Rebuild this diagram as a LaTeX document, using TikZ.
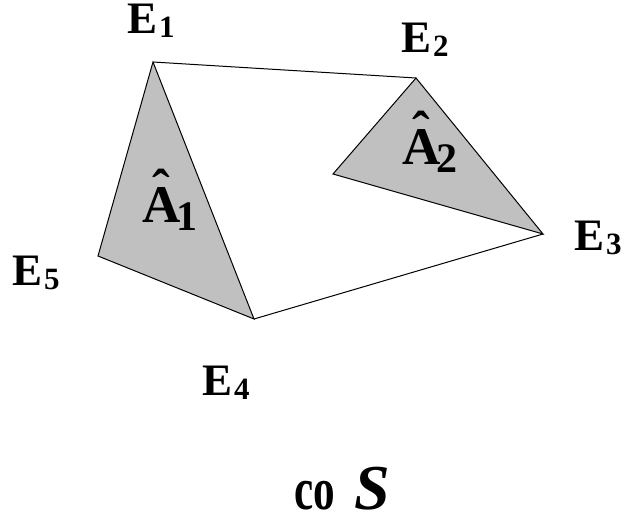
\documentclass[tikz,border=0pt]{standalone}
\usepackage{fontspec}
\setmainfont{Liberation Serif}
\usetikzlibrary{positioning}
\definecolor{facegray}{RGB}{192,192,192}
\newcommand\vsub[1]{\kern2pt\raisebox{-4pt}{\fontsize{31}{31}\selectfont #1}}
\newcommand\hatA{\ooalign{A\cr\hidewidth\raisebox{16pt}{ˆ}\hidewidth\cr}}
\newcommand\asub[1]{\kern-4pt\raisebox{-8pt}{\fontsize{42}{42}\selectfont #1}}

\begin{document}
\begin{tikzpicture}[x=1pt, y=-1pt,
        face/.style={fill=facegray, draw=black, line width=1pt},
        edge/.style={draw=black, line width=1pt},
        vlabel/.style={anchor=base west, inner sep=0pt, text height=30pt, text depth=6pt,
          font=\fontsize{45}{48}\selectfont\bfseries},
        alabel/.style={anchor=base west, inner sep=0pt,
          font=\fontsize{53}{56}\selectfont\bfseries}]
      \useasboundingbox (0,0) rectangle (624,522);
      \coordinate (E1) at (153,62);
      \coordinate (E2) at (416,78);
      \coordinate (E3) at (543,234);
      \coordinate (E4) at (254,319);
      \coordinate (E5) at (98,256);
      \coordinate (in2) at (333,174);
      \filldraw[face] (E1) -- (E5) -- (E4) -- cycle;
      \filldraw[face] (E2) -- (in2) -- (E3) -- cycle;
      \draw[edge] (E1) -- (E2);
      \draw[edge] (E3) -- (E4);
      \node[vlabel] (lab1) at (127,33)  {E\vsub{1}};
      \node[vlabel] (lab2) at (401,52)  {E\vsub{2}};
      \node[vlabel] (lab3) at (574,250) {E\vsub{3}};
      \node[vlabel] (lab4) at (202,395) {E\vsub{4}};
      \node[vlabel] (lab5) at (12,285)  {E\vsub{5}};
      \node[alabel] (hat1) at (142,222) {\hatA\asub{1}};
      \node[alabel] (hat2) at (402,164) {\hatA\asub{2}};
      \node[anchor=base west, inner sep=0pt, font=\fontsize{60}{62}\selectfont\bfseries]
        (co) at (294,509) {\scalebox{0.72}[1]{co}};
      \node[anchor=base west, inner sep=0pt, font=\fontsize{64}{66}\selectfont\bfseries\itshape]
        (sym) at (354,509) {S};
      \end{tikzpicture}
\end{document}
